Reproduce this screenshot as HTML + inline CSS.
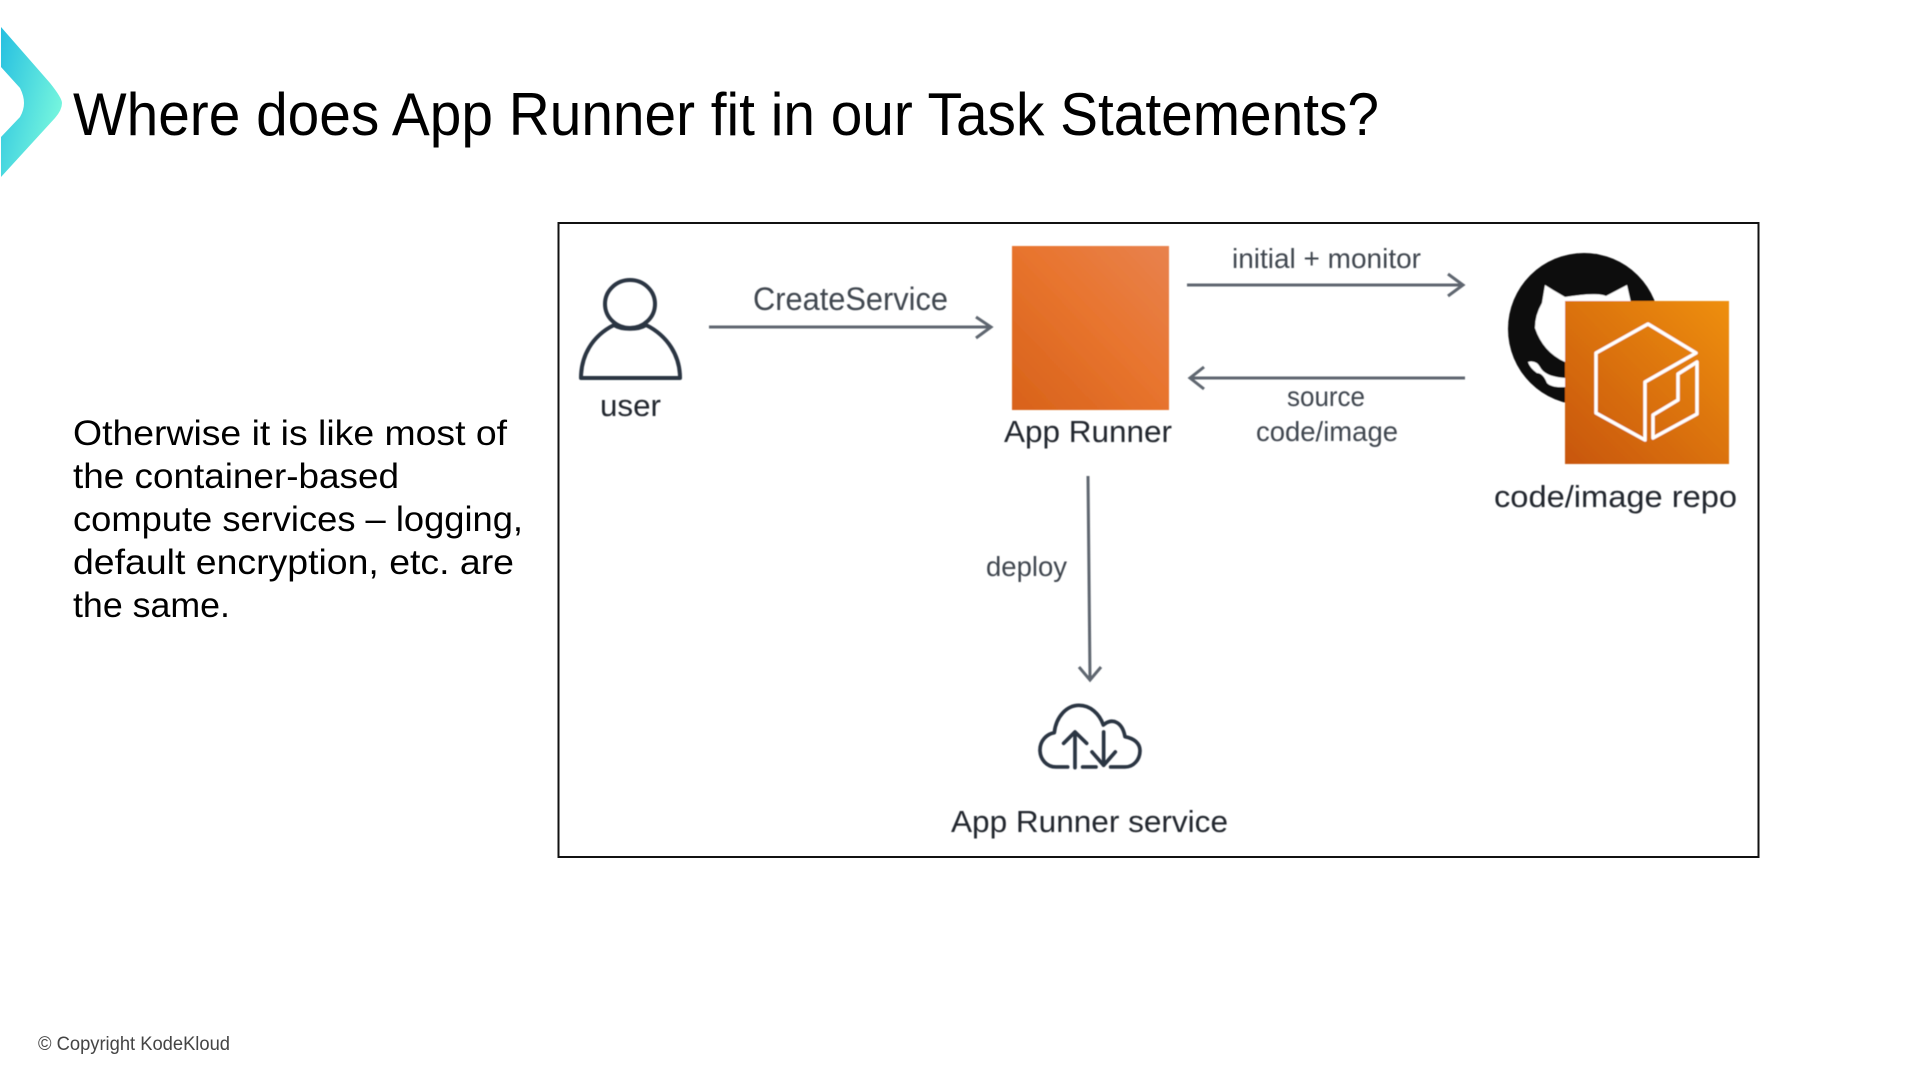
<!DOCTYPE html>
<html><head><meta charset="utf-8"><title>App Runner</title>
<style>html,body{margin:0;padding:0;background:#fff;width:1920px;height:1080px;overflow:hidden}svg{display:block}text{font-family:"Liberation Sans",sans-serif}</style>
</head><body>
<svg width="1920" height="1080" viewBox="0 0 1920 1080" xmlns="http://www.w3.org/2000/svg">
<defs>
<linearGradient id="chev" x1="0" y1="0" x2="1" y2="0.6"><stop offset="0" stop-color="#25bfe0"/><stop offset="1" stop-color="#78f7de"/></linearGradient>
<linearGradient id="o1" x1="0" y1="1" x2="1" y2="0"><stop offset="0" stop-color="#d8621a"/><stop offset="0.55" stop-color="#e8752f"/><stop offset="1" stop-color="#e8824e"/></linearGradient>
<linearGradient id="o2" x1="0" y1="1" x2="1" y2="0"><stop offset="0" stop-color="#c8560f"/><stop offset="1" stop-color="#ee8f0b"/></linearGradient>
<filter id="soft" x="-5%" y="-5%" width="110%" height="110%"><feGaussianBlur stdDeviation="0.5"/></filter>
</defs>
<rect width="1920" height="1080" fill="#fff"/>
<path d="M1 27 L50 83 Q62 98 62 103 Q62 110 55 118 L1 177 V137 L20 117 Q24 110 24 103 Q24 96 20 88 L1 67 Z" fill="url(#chev)"/>
<text x="73" y="135" font-size="60" fill="#000" textLength="1306" lengthAdjust="spacingAndGlyphs">Where does App Runner fit in our Task Statements?</text>
<g font-size="35" fill="#000">
<text x="73" y="445" textLength="434" lengthAdjust="spacingAndGlyphs">Otherwise it is like most of</text>
<text x="73" y="488" textLength="326" lengthAdjust="spacingAndGlyphs">the container-based</text>
<text x="73" y="531" textLength="450" lengthAdjust="spacingAndGlyphs">compute services – logging,</text>
<text x="73" y="574" textLength="441" lengthAdjust="spacingAndGlyphs">default encryption, etc. are</text>
<text x="73" y="617" textLength="157" lengthAdjust="spacingAndGlyphs">the same.</text>
</g>
<text x="38" y="1050" font-size="19" fill="#444" textLength="192" lengthAdjust="spacingAndGlyphs">© Copyright KodeKloud</text>
<rect x="558.5" y="223" width="1200" height="634" fill="#fff" stroke="#111" stroke-width="2"/>
<g filter="url(#soft)">
<g fill="none" stroke="#2b3442" stroke-width="4">
<ellipse cx="630" cy="304" rx="25" ry="24"/>
<path d="M614 325 C592 336 581 356 581 378 L680 378 C680 356 668 336 646 325 C638 330 622 330 614 325 Z" stroke-linejoin="round"/>
</g>
<rect x="1012" y="246" width="157" height="164" fill="url(#o1)"/>
<g fill="none" stroke="#5f6670" stroke-width="3">
<path d="M709 327 H990 M976 317 L991 327 L976 338"/>
<path d="M1187 285 H1462 M1448 274 L1463 285 L1448 296"/>
<path d="M1465 378 H1191 M1204 367 L1190 378 L1204 389"/>
<path d="M1088 476 L1090 679 M1079 667 L1090 680 L1101 667"/>
</g>
<circle cx="1584" cy="329" r="76" fill="#111"/>
<path d="M1545 285 L1553 290 L1565 297 Q1596 292 1606 296 L1627 285 L1634 316 L1640 370 L1565 362 Q1543 352 1535 328 Q1535 315 1542 303 Z" fill="#fff"/>
<path d="M1528 362 Q1536 360 1540 367 Q1545 377 1566 378 L1566 387 Q1552 388 1547 383 Q1543 373 1537 373 Q1530 368 1528 362 Z" fill="#fff"/>
<rect x="1565" y="301" width="164" height="163" fill="url(#o2)"/>
<g fill="none" stroke="#fff" stroke-width="3.500" stroke-linejoin="round">
<path d="M1648 324 L1696 353 L1645 382 V440 L1596 413 V353 Z"/>
<path d="M1678 374 L1697 362 V414 L1653 438 V415 L1678 400 Z"/>
</g>
<g fill="none" stroke="#2b3442" stroke-width="11" stroke-linecap="round" stroke-linejoin="round" transform="translate(930 540) scale(.3333)">
<path d="M413 681 H378 C350 681 330 658 330 630 C330 602 350 582 373 578 C378 530 410 496 447 496 C480 496 508 520 520 555 C550 530 578 550 585 590 C612 595 630 610 630 632 C630 660 610 681 585 681 H542"/>
<path d="M435 683 V578 M401 610 L435 576 L470 610"/>
<path d="M521 576 V676 M486 636 L521 676 L556 636"/>
<path d="M458 681 H498"/>
</g>
<g fill="#22272e">
<text x="600" y="416" font-size="31" textLength="61" lengthAdjust="spacingAndGlyphs">user</text>
<text x="1004" y="442" font-size="31" textLength="168" lengthAdjust="spacingAndGlyphs">App Runner</text>
<text x="1494" y="507" font-size="31" textLength="243" lengthAdjust="spacingAndGlyphs">code/image repo</text>
<text x="951" y="832" font-size="31" textLength="277" lengthAdjust="spacingAndGlyphs">App Runner service</text>
</g>
<g fill="#40464f">
<text x="753" y="310" font-size="32" textLength="195" lengthAdjust="spacingAndGlyphs">CreateService</text>
<text x="1232" y="268" font-size="28" textLength="189" lengthAdjust="spacingAndGlyphs">initial + monitor</text>
<text x="1287" y="406" font-size="28" textLength="78" lengthAdjust="spacingAndGlyphs">source</text>
<text x="1256" y="441" font-size="28" textLength="142" lengthAdjust="spacingAndGlyphs">code/image</text>
<text x="986" y="576" font-size="28" textLength="81" lengthAdjust="spacingAndGlyphs">deploy</text>
</g>
</g>
</svg>
</body></html>
